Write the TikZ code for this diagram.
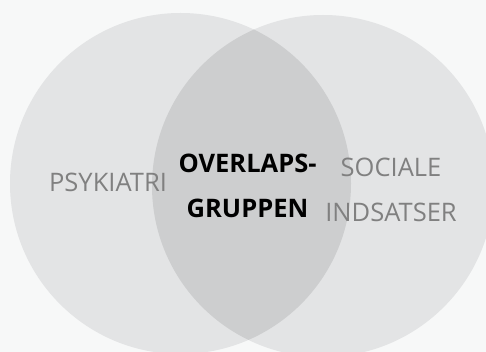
\documentclass[tikz,border=0pt]{standalone}
\usepackage{fontspec}
\setmainfont{Open Sans}
\definecolor{bgcolor}{HTML}{F7F8F8}
\definecolor{setcolor}{HTML}{E3E4E5}
\definecolor{overlapcolor}{HTML}{CDCECF}
\definecolor{labelgray}{HTML}{808080}
\tikzstyle{setlabel} = [text=labelgray, align=center, inner sep=0pt,
                        font=\fontsize{25.5}{45}\selectfont]
\tikzstyle{overlaplabel} = [setlabel, text=black,
                            font=\fontsize{25.5}{45}\selectfont\bfseries]

\begin{document}
\begin{tikzpicture}[x=1pt, y=-1pt]

        %Background
        \useasboundingbox (0,0) rectangle (486,352);
        \fill[bgcolor] (0,0) rectangle (486,352);
        \clip (0,0) rectangle (486,352);

        %Sets
        \coordinate (PsykCenter) at (180.5,183.5);
        \coordinate (SocCenter) at (323,186);
        \fill[setcolor] (PsykCenter) circle (170.5);
        \fill[setcolor] (SocCenter) circle (171);

        %Overlap
        \begin{scope}
            \clip (PsykCenter) circle (170.5);
            \fill[overlapcolor] (SocCenter) circle (171);
        \end{scope}

        %Labels
        \node (Psykiatri) [setlabel] at (108,182.5) {PSYKIATRI};
        \node (Overlap) [overlaplabel] at (247.5,185.5) {OVERLAPS-\\GRUPPEN};
        \node (Sociale) [setlabel] at (391,189.5) {SOCIALE\\INDSATSER};

\end{tikzpicture}
\end{document}
